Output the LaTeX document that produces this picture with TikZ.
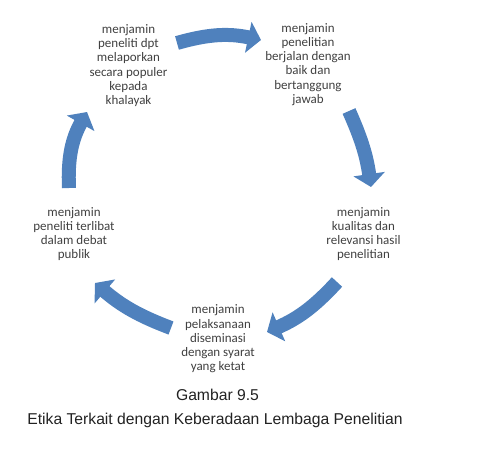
\documentclass[tikz,border=0pt]{standalone}
\usepackage{fontspec}
\setmainfont{Carlito}
\newfontfamily\captionfont{Liberation Sans}
\usepackage{tikz}
\usetikzlibrary{positioning, arrows.meta, calc}
\definecolor{arrowblue}{RGB}{79,129,189}
\definecolor{textgray}{RGB}{64,64,64}
\definecolor{captiongray}{RGB}{34,34,34}

\tikzset{
	stage/.style = {align=center, text=textgray, inner sep=1pt,
		font=\fontsize{13}{14.2}\selectfont},
	cyclearrow/.style = {draw=arrowblue, line width=14pt,
		-{Triangle[width=31pt, length=13pt]}},
	captiontext/.style = {text=captiongray, inner sep=0pt,
		font=\captionfont\fontsize{15.7}{18}\selectfont}
}

\begin{document}
\begin{tikzpicture}[x=1pt, y=1pt]
	\useasboundingbox (0,0) rectangle (491,-453);
	
	% Stages of the cycle
	\node[stage] (report) at (128.5,-65.5) {menjamin\\peneliti dpt\\melaporkan\\secara populer\\kepada\\khalayak};
	\node[stage] (conduct) at (308,-64.5) {menjamin\\penelitian\\berjalan dengan\\baik dan\\bertanggung\\jawab};
	\node[stage] (quality) at (363.5,-234) {menjamin\\kualitas dan\\relevansi hasil\\penelitian};
	\node[stage] (dissem) at (218,-339) {menjamin\\pelaksanaan\\diseminasi\\dengan syarat\\yang ketat};
	\node[stage] (debate) at (74,-234) {menjamin\\peneliti terlibat\\dalam debat\\publik};
	
	% Arrow ends
	\coordinate (a1s) at (177,-43);
	\coordinate (a1e) at (261,-40);
	\coordinate (a2s) at (349,-111);
	\coordinate (a2e) at (371,-187);
	\coordinate (a3s) at (337,-282);
	\coordinate (a3e) at (267,-332);
	\coordinate (a4s) at (171,-328);
	\coordinate (a4e) at (95,-283);
	\coordinate (a5s) at (69,-188);
	\coordinate (a5e) at (87,-112);
	
	% Connections
	\draw[cyclearrow] (a1s) to[bend left=14] (a1e);
	\draw[cyclearrow] (a2s) to[bend left=8] (a2e);
	\draw[cyclearrow] (a3s) to[bend left=12] (a3e);
	\draw[cyclearrow] (a4s) to[bend left=10] (a4e);
	\draw[cyclearrow] (a5s) to[bend left=16] (a5e);
	
	% Caption
	\node[captiontext] (fignum) at (217.5,-395) {Gambar 9.5};
	\node[captiontext] (figtitle) at (215,-420) {Etika Terkait dengan Keberadaan Lembaga Penelitian};
\end{tikzpicture}
\end{document}
